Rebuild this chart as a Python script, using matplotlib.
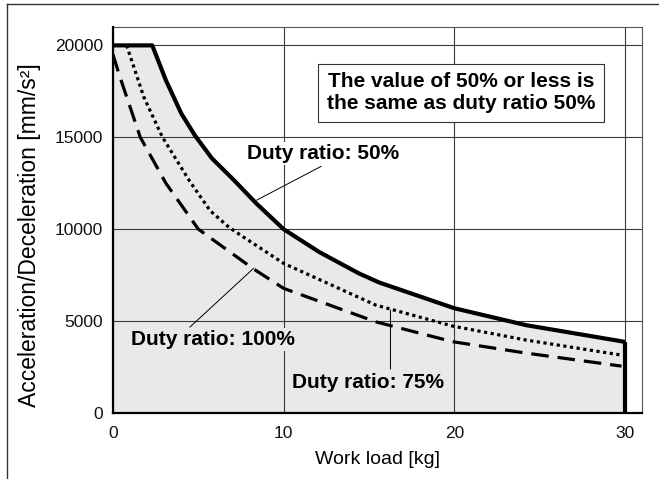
import matplotlib.pyplot as plt
from matplotlib.lines import Line2D

plt.rcParams['font.family'] = ['Liberation Sans', 'DejaVu Sans']

# work load [kg] vs allowable acceleration/deceleration [mm/s2]
load_50 = [0, 2.3, 3.1, 4.0, 4.8, 5.8, 7.0, 8.4, 10.0, 12.1, 14.4, 15.6, 20.0, 24.2, 30.0]
accel_50 = [20000, 20000, 18100, 16300, 15100, 13850, 12750, 11400, 10000, 8750, 7600, 7100, 5700,
            4780, 3870]

load_75 = [0.8, 1.8, 2.9, 4.5, 5.7, 6.8, 7.6, 10.0, 15.4, 19.9, 24.2, 29.8]
accel_75 = [20000, 17200, 15000, 12600, 11000, 10100, 9600, 8140, 5870, 4730, 3970, 3150]

load_100 = [0, 0.4, 1.6, 3.1, 5.0, 8.2, 10.0, 15.4, 19.9, 24.2, 29.8]
accel_100 = [19500, 18300, 15000, 12500, 10000, 7860, 6780, 4960, 3880, 3260, 2550]

x_ticks = [0, 10, 20, 30]
y_ticks = [0, 5000, 10000, 15000, 20000]

fill_col = '#e8e9e9'
grid_col = '#3a3a3a'

fig = plt.figure(figsize=(6.59, 4.79), dpi=100)
ax = fig.add_axes([113 / 659, 66 / 479, 529 / 659, 386 / 479])

# shaded operating area under the 50% curve
ax.fill_between(load_50, accel_50, 0, color=fill_col, lw=0, zorder=1)

ax.set_xlim(0, 31)
ax.set_ylim(0, 21000)
ax.set_xticks(x_ticks)
ax.set_yticks(y_ticks)
ax.tick_params(length=0, labelsize=12.5, colors='#111111')
ax.tick_params(axis='x', pad=9)
ax.tick_params(axis='y', pad=7)
ax.grid(True, color=grid_col, lw=0.8, zorder=2)
ax.set_axisbelow(False)

for side in ('top', 'right'):
    ax.spines[side].set_color('#555555')
    ax.spines[side].set_linewidth(0.8)
for side in ('left', 'bottom'):
    ax.spines[side].set_color('black')
    ax.spines[side].set_linewidth(1.6)
    ax.spines[side].set_zorder(5)

ax.plot(load_50, accel_50, color='black', lw=3.0, solid_capstyle='butt',
        solid_joinstyle='round', zorder=4)
ax.vlines(load_50[-1], 0, accel_50[-1], color='black', lw=3.0, zorder=4)
ax.plot(load_75, accel_75, color='black', lw=2.3, dashes=(1, 1.1), zorder=4)
ax.plot(load_100, accel_100, color='black', lw=2.3, dashes=(5.5, 2.8), zorder=4)

ax.set_xlabel('Work load [kg]', fontsize=14, va='top')
ax.xaxis.set_label_coords(0.5, -0.098)
ax.set_ylabel('Acceleration/Deceleration [mm/s²]', fontsize=16.5)
ax.yaxis.set_label_coords(-0.136, 0.46)

# note box
ax.text(20.4, 17420, 'The value of 50% or less is\nthe same as duty ratio 50%',
        ha='center', va='center', fontsize=15, fontweight='bold', linespacing=1.2,
        bbox=dict(boxstyle='square,pad=0.42', fc='white', ec='#333333', lw=0.8),
        zorder=6)

# curve labels with leader lines
lead = dict(arrowstyle='-', color='black', lw=0.7, shrinkA=0, shrinkB=0)
ax.annotate('', xy=(8.42, 11580), xytext=(12.2, 13420), arrowprops=lead, zorder=3)
ax.text(7.85, 13840, 'Duty ratio: 50%', ha='left', va='baseline', fontsize=15,
        fontweight='bold', zorder=6,
        bbox=dict(boxstyle='square,pad=0.1', fc='white', ec='none'))

ax.annotate('', xy=(8.25, 7880), xytext=(4.5, 4670), arrowprops=lead, zorder=3)
ax.text(1.04, 3700, 'Duty ratio: 100%', ha='left', va='baseline', fontsize=15,
        fontweight='bold', zorder=6,
        bbox=dict(boxstyle='square,pad=0.1', fc=fill_col, ec='none'))

ax.annotate('', xy=(16.26, 5600), xytext=(16.26, 2390), arrowprops=lead, zorder=3)
ax.text(10.49, 1340, 'Duty ratio: 75%', ha='left', va='baseline', fontsize=15,
        fontweight='bold', zorder=6,
        bbox=dict(boxstyle='square,pad=0.1', fc=fill_col, ec='none'))

# outer frame (top and left edges)
fig.add_artist(Line2D([7 / 659, 7 / 659], [0, 475 / 479], transform=fig.transFigure,
                      color='#333333', lw=1.0))
fig.add_artist(Line2D([7 / 659, 1], [475 / 479, 475 / 479], transform=fig.transFigure,
                      color='#333333', lw=1.0))

fig.savefig('out.png', dpi=100)
